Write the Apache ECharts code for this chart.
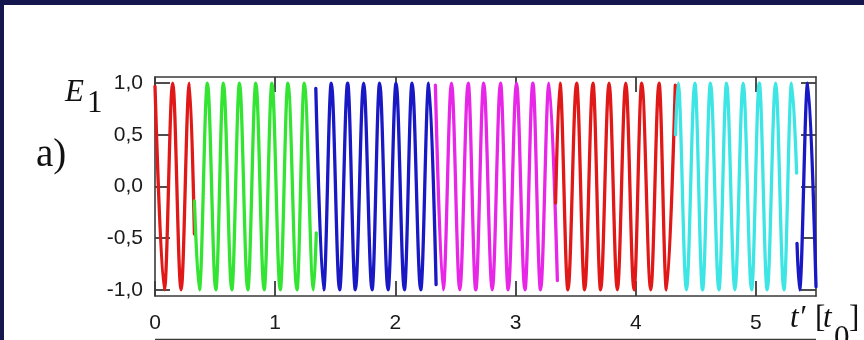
<!DOCTYPE html>
<html>
<head>
<meta charset="utf-8">
<script src="https://cdn.jsdelivr.net/npm/echarts@6/dist/echarts.min.js"></script>
<style>
  html, body { margin: 0; padding: 0; background: #ffffff; }
  #chart { width: 864px; height: 340px; }
</style>
</head>
<body>
<div id="chart"></div>
<script>
// ---- Data: [t' (in t0), E1] at segment ends and wave extrema ----
const red1 = [[0, 0.97], [0.078, -1], [0.147, 1], [0.217, -1], [0.286, 1], [0.328, -0.46]];
const green1 = [[0.328, -0.14], [0.369, -1], [0.436, 1], [0.506, -1], [0.569, 1], [0.639, -1], [0.703, 1],
  [0.772, -1], [0.839, 1], [0.908, -1], [0.973, 1], [1.042, -1], [1.106, 1], [1.181, -1], [1.242, 1],
  [1.319, -1], [1.342, -0.45]];
const blue1 = [[1.338, 0.95], [1.403, -1], [1.467, 1], [1.536, -1], [1.603, 1], [1.667, -1], [1.736, 1],
  [1.806, -1], [1.869, 1], [1.939, -1], [2.006, 1], [2.075, -1], [2.139, 1], [2.211, -1], [2.278, 1],
  [2.339, -0.95]];
const magenta1 = [[2.333, 0.98], [2.398, -1], [2.467, 1], [2.536, -1], [2.606, 1], [2.669, -1], [2.735, 1],
  [2.806, -1], [2.875, 1], [2.939, -1], [3.008, 1], [3.078, -1], [3.144, 1], [3.208, -1], [3.278, 1],
  [3.348, -0.91]];
const red2 = [[3.333, -0.16], [3.369, 1], [3.436, -1], [3.508, 1], [3.575, -1], [3.644, 1], [3.708, -1],
  [3.778, 1], [3.847, -1], [3.917, 1], [3.986, -1], [4.05, 1], [4.125, -1], [4.194, 1], [4.256, -1],
  [4.329, 0.98]];
const cyan1 = [[4.331, 0.5], [4.353, 1], [4.422, -1], [4.492, 1], [4.556, -1], [4.622, 1], [4.692, -1],
  [4.756, 1], [4.825, -1], [4.894, 1], [4.964, -1], [5.028, 1], [5.094, -1], [5.164, 1], [5.233, -1],
  [5.297, 1], [5.339, 0.13]];
const blue2 = [[5.342, -0.55], [5.363, -1], [5.431, 1], [5.5, -0.97]];

const xTicks = [0, 1, 2, 3, 4, 5];
const yTicks = [-1, -0.5, 0, 0.5, 1];

const segments = [
  { data: red1, color: '#e01818' },
  { data: green1, color: '#33e433' },
  { data: blue1, color: '#1818c4' },
  { data: magenta1, color: '#e826e8' },
  { data: red2, color: '#e01818' },
  { data: cyan1, color: '#3ee5e5' },
  { data: blue2, color: '#1818c4' }
];

const axisColor = '#3a3a3a';
const labelFont = 'Liberation Sans, Arial, sans-serif';
const serif = 'Liberation Serif, Times New Roman, serif';

function fmt(v) { return v.toFixed(1).replace('.', ','); }

const chart = echarts.init(document.getElementById('chart'), null, { renderer: 'canvas' });

const tickStyle = { color: axisColor, width: 1.8 };
const lineAxis = { color: axisColor, width: 1.6 };

const option = {
  animation: false,
  backgroundColor: '#ffffff',
  grid: { left: 155, top: 77, width: 661, height: 219, containLabel: false },
  xAxis: [
    {
      type: 'value', min: 0, max: 5.5, position: 'bottom',
      axisLine: { show: true, onZero: false, lineStyle: lineAxis },
      axisTick: { show: true, inside: true, length: 15, customValues: xTicks, lineStyle: tickStyle },
      axisLabel: { show: true, customValues: xTicks, margin: 17, color: '#1a1a1a', fontSize: 21, fontFamily: labelFont,
        formatter: v => String(v) },
      splitLine: { show: false }
    },
    {
      type: 'value', min: 0, max: 5.5, position: 'top',
      axisLine: { show: true, onZero: false, lineStyle: lineAxis },
      axisTick: { show: true, inside: true, length: 15, customValues: xTicks, lineStyle: tickStyle },
      axisLabel: { show: false },
      splitLine: { show: false }
    }
  ],
  yAxis: [
    {
      type: 'value', min: -1.06, max: 1.06, position: 'left',
      axisLine: { show: true, onZero: false, lineStyle: lineAxis },
      axisTick: { show: true, inside: true, length: 15, customValues: yTicks, lineStyle: tickStyle },
      axisLabel: { show: true, customValues: yTicks, margin: 12, color: '#1a1a1a', fontSize: 21, fontFamily: labelFont,
        formatter: v => fmt(v) },
      splitLine: { show: false }
    },
    {
      type: 'value', min: -1.06, max: 1.06, position: 'right',
      axisLine: { show: true, onZero: false, lineStyle: lineAxis },
      axisTick: { show: true, inside: true, length: 15, customValues: yTicks, lineStyle: tickStyle },
      axisLabel: { show: false },
      splitLine: { show: false }
    }
  ],
  series: segments.map(s => ({
    type: 'line',
    xAxisIndex: 0, yAxisIndex: 0,
    data: s.data,
    showSymbol: false,
    symbol: 'none',
    smooth: 0.36,
    smoothMonotone: 'x',
    lineStyle: { color: s.color, width: 3.3, join: 'round', cap: 'round' },
    emphasis: { disabled: true },
    z: 1
  })),
  graphic: [
    { type: 'rect', shape: { x: 0, y: 0, width: 864, height: 5 }, style: { fill: '#16164e' }, z: 100 },
    { type: 'rect', shape: { x: 0, y: 0, width: 4, height: 340 }, style: { fill: '#16164e' }, z: 100 },
    // E_1 axis name
    { type: 'text', x: 65, y: 93, style: { text: 'E', fontFamily: serif, fontStyle: 'italic', fontSize: 31, fill: '#111', verticalAlign: 'middle' } },
    { type: 'text', x: 87, y: 104, style: { text: '1', fontFamily: serif, fontSize: 31, fill: '#111', verticalAlign: 'middle' } },
    // panel label
    { type: 'text', x: 36, y: 156, style: { text: 'a)', fontFamily: serif, fontSize: 39, fill: '#111', verticalAlign: 'middle' } },
    // t' [t0]
    { type: 'text', x: 790, y: 319, style: { text: 't′', fontFamily: serif, fontStyle: 'italic', fontSize: 31, fill: '#111', verticalAlign: 'middle' } },
    { type: 'text', x: 815, y: 319, style: { text: '[', fontFamily: serif, fontSize: 31, fill: '#111', verticalAlign: 'middle' } },
    { type: 'text', x: 823, y: 319, style: { text: 't', fontFamily: serif, fontStyle: 'italic', fontSize: 31, fill: '#111', verticalAlign: 'middle' } },
    { type: 'text', x: 834, y: 339, style: { text: '0', fontFamily: serif, fontSize: 31, fill: '#111', verticalAlign: 'middle' } },
    { type: 'text', x: 849, y: 319, style: { text: ']', fontFamily: serif, fontSize: 31, fill: '#111', verticalAlign: 'middle' } },
    // top of the next panel, cut by the picture edge
    { type: 'line', shape: { x1: 155, y1: 339.5, x2: 816, y2: 339.5 }, style: { stroke: axisColor, lineWidth: 1.6 } },
    { type: 'text', x: 143, y: 348, style: { text: '1,0', fontFamily: labelFont, fontSize: 21, fill: '#1a1a1a', align: 'right', verticalAlign: 'middle' } }
  ]
};

chart.setOption(option);
</script>
</body>
</html>
